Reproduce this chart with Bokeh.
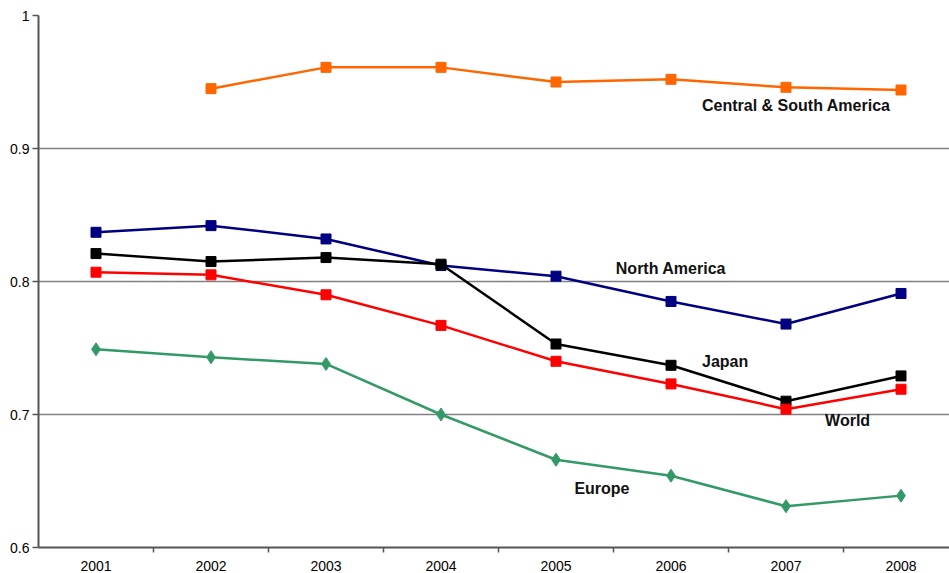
from bokeh.plotting import figure
from bokeh.models import Range1d, FixedTicker, Label
from bokeh.embed import file_html
from bokeh.resources import INLINE

years = [2001, 2002, 2003, 2004, 2005, 2006, 2007, 2008]

csa_years = [2002, 2003, 2004, 2005, 2006, 2007, 2008]
central_south_america = [0.945, 0.961, 0.961, 0.950, 0.952, 0.946, 0.944]
north_america = [0.837, 0.842, 0.832, 0.812, 0.804, 0.785, 0.768, 0.791]
japan = [0.821, 0.815, 0.818, 0.813, 0.753, 0.737, 0.710, 0.729]
world = [0.807, 0.805, 0.790, 0.767, 0.740, 0.723, 0.704, 0.719]
europe = [0.749, 0.743, 0.738, 0.700, 0.666, 0.654, 0.631, 0.639]

y_ticks = [0.6, 0.7, 0.8, 0.9, 1.0]
y_tick_labels = ["0.6", "0.7", "0.8", "0.9", "1"]

FONT = "Liberation Sans"

p = figure(width=949, height=573, output_backend="svg", toolbar_location=None,
           x_range=Range1d(2000.5, 2008.4217), y_range=Range1d(0.6, 1.0),
           min_border_left=38, min_border_top=15, min_border_bottom=23, min_border_right=0)
p.outline_line_color = None
p.background_fill_color = "white"

p.xgrid.visible = False
p.ygrid.grid_line_color = "#808080"
p.ygrid.grid_line_width = 1.5
p.ygrid.ticker = FixedTicker(ticks=y_ticks)

p.xaxis.ticker = FixedTicker(ticks=years, minor_ticks=[y + 0.5 for y in years[:-1]])
p.xaxis.major_tick_out = 0
p.xaxis.major_tick_in = 0
p.xaxis.minor_tick_out = 5
p.xaxis.minor_tick_in = 0
p.yaxis.ticker = FixedTicker(ticks=y_ticks)
p.yaxis.major_label_overrides = dict(zip(y_ticks, y_tick_labels))
p.yaxis.major_tick_out = 6
p.yaxis.major_tick_in = 0
p.yaxis.minor_tick_out = 0
p.yaxis.minor_tick_in = 0
for ax in (p.xaxis, p.yaxis):
    ax.axis_line_color = "#555555"
    ax.axis_line_width = 2
    ax.major_tick_line_color = "#555555"
    ax.minor_tick_line_color = "#555555"
    ax.major_tick_line_width = 1.5
    ax.minor_tick_line_width = 1.5
    ax.major_label_text_font = FONT
    ax.major_label_text_font_size = "14px"
    ax.major_label_text_color = "black"
p.xaxis.major_label_standoff = 8
p.yaxis.major_label_standoff = 3

series = [
    (csa_years, central_south_america, "#FF6600", "square"),
    (years, north_america, "#000080", "square"),
    (years, japan, "#000000", "square"),
    (years, world, "#FF0000", "square"),
    (years, europe, "#339966", "diamond"),
]
for xs, ys, color, marker in series:
    p.line(xs, ys, line_color=color, line_width=2.5)
    p.scatter(xs, ys, marker=marker, size=13 if marker == "diamond" else 10,
              fill_color=color, line_color=color)

labels = [
    ("Central & South America", 2006.27, 0.9325),
    ("North America", 2005.52, 0.810),
    ("Japan", 2006.27, 0.740),
    ("World", 2007.34, 0.6953),
    ("Europe", 2005.16, 0.6443),
]
for text, lx, ly in labels:
    p.add_layout(Label(x=lx, y=ly, text=text, text_font=FONT, text_font_size="16px",
                       text_font_style="bold", text_baseline="middle", text_color="#111111"))

open("out.html", "w").write(file_html(p, INLINE))
